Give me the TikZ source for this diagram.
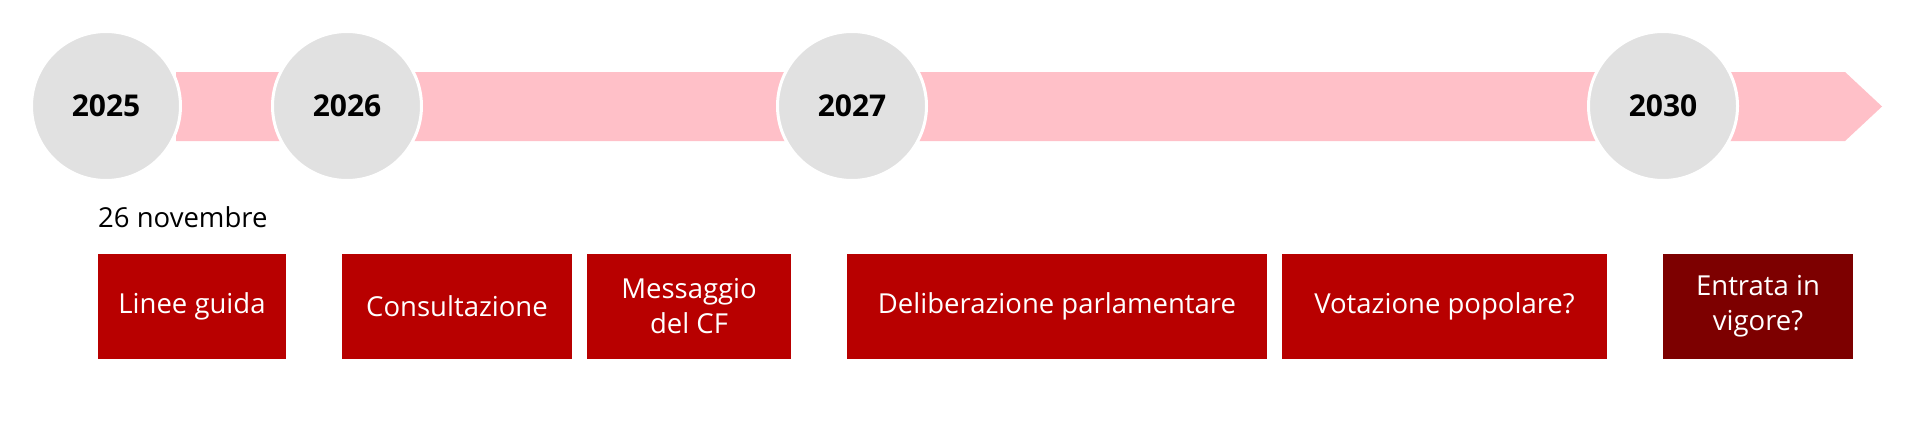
\documentclass[tikz,border=0pt]{standalone}
\usepackage{fontspec}
\setmainfont{Open Sans}
\definecolor{bandpink}{HTML}{FFC0C8}
\definecolor{circgray}{HTML}{E1E1E1}
\definecolor{boxred}{HTML}{B80000}
\definecolor{boxdark}{HTML}{7D0000}
\tikzset{
  year/.style={circle, fill=circgray, draw=white, line width=3pt, minimum size=149pt, inner sep=0pt, font=\fontsize{30}{34}\selectfont\bfseries, text=black},
  phase/.style={fill=boxred, draw=none, minimum height=105pt, inner sep=0pt, align=center, text=white, font=\fontsize{27.5}{35}\selectfont},
  band/.style={fill=bandpink, draw=none}
}
\begin{document}
\begin{tikzpicture}[x=1pt, y=-1pt]
\useasboundingbox (0,0) rectangle (1920,423);
\fill[white] (0,0) rectangle (1920,423);
\coordinate (bl) at (176,72);
\coordinate (br) at (1845,72);
\coordinate (tip) at (1882,106.5);
\coordinate (brb) at (1845,141);
\coordinate (blb) at (176,141);
\fill[band] (bl) -- (br) -- (tip) -- (brb) -- (blb) -- cycle;
\node[year] (y2025) at (106,106) {2025};
\node[year] (y2026) at (347,106) {2026};
\node[year] (y2027) at (852,106) {2027};
\node[year] (y2030) at (1663,106) {2030};
\node[anchor=base west, inner sep=0pt, font=\fontsize{27.5}{34}\selectfont] (nov) at (98,227) {26 novembre};
\node[phase, minimum width=188pt] (p1) at (192,306.5) {Linee guida};
\node[phase, minimum width=230pt] (p2) at (457,306.5) {Consultazione};
\node[phase, minimum width=204pt] (p3) at (689,306.5) {Messaggio\\del CF};
\node[phase, minimum width=420pt] (p4) at (1057,306.5) {Deliberazione parlamentare};
\node[phase, minimum width=325pt] (p5) at (1444.5,306.5) {Votazione popolare?};
\node[phase, fill=boxdark, minimum width=190pt] (p6) at (1758,306.5) {Entrata in\\vigore?};
\end{tikzpicture}
\end{document}
